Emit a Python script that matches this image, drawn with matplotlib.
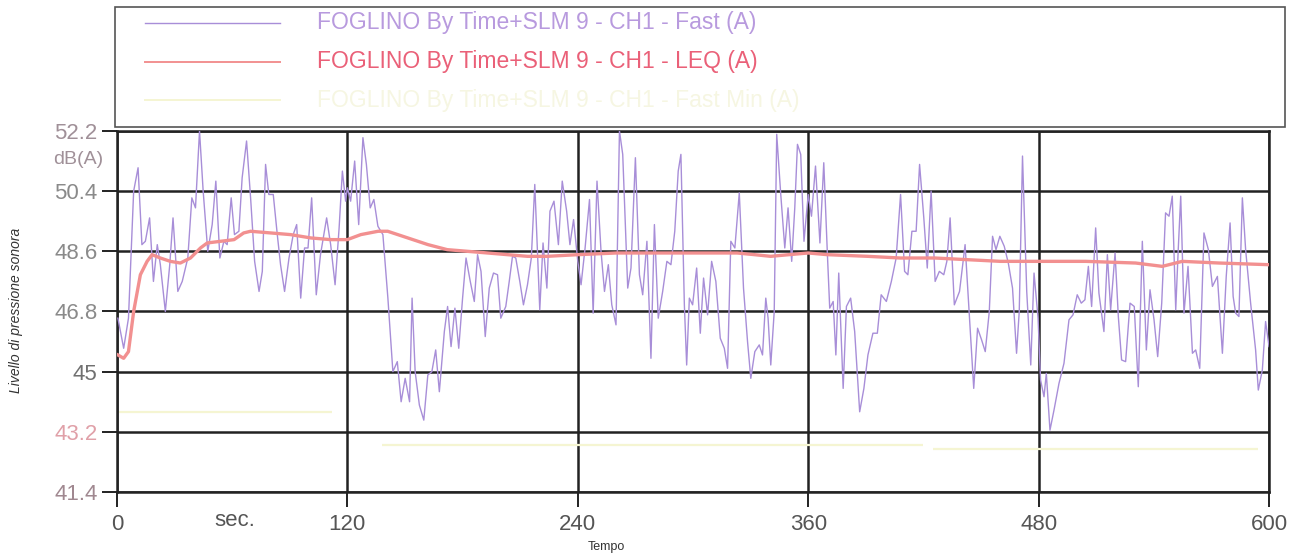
import numpy as np
import matplotlib
matplotlib.use('Agg')
import matplotlib.pyplot as plt
from matplotlib.patches import Rectangle
from matplotlib.lines import Line2D

plt.rcParams['font.family'] = ['Liberation Sans', 'DejaVu Sans']

# Fast (A)
fast_t = [0.5, 3.5, 6, 8.7, 11, 13, 14.8, 17, 19, 21, 22.6, 25.2, 27.5, 29.2, 31.7, 34, 36.9, 39, 40.9, 43,
          44.9, 47.3, 49.6, 51.5, 53.6, 55.7, 57.4, 59.5, 61.2, 63.5, 65.2, 67.5, 69.6, 71.7, 74, 75.7, 77.4,
          79.1, 81.4, 83.5, 85.2, 87.3, 89.6, 91.8, 93.6, 95.7, 97.7, 99.5, 101.4, 103.8, 106, 109.2, 111.3,
          113.6, 115.7, 117.4, 119.1, 120, 121.7, 123.8, 125.9, 128.1, 129.9, 131.9, 133.8, 135.9, 138.5,
          141.1, 143.7, 146, 148, 150.1, 152.4, 153.7, 155.3, 157.5, 159.8, 161.9, 164, 166, 167.9, 170.5,
          172.2, 174, 176, 178, 180, 181.8, 184, 186.1, 187.8, 189.6, 191.8, 193.9, 196.1, 198.2, 199.9,
          202.5, 204.3, 206, 207.7, 209.8, 211.7, 213.8, 215.8, 217.6, 219, 220.2, 221.9, 223.9, 225.5,
          227.6, 229.9, 231.9, 234.2, 235.9, 237.8, 240, 241.7, 243.8, 246.1, 248, 250, 252.1, 253.9, 255.9,
          257.7, 259.9, 261.7, 263.4, 266, 267.7, 270, 272.1, 273.8, 276, 278.1, 279.9, 281.9, 284.2, 286.4,
          288.5, 290.5, 292.3, 293.7, 295.5, 296.7, 298.1, 299.8, 301.9, 303.8, 305.5, 307.6, 309.7, 311.9,
          314.2, 316.3, 318, 319.7, 321.8, 324.1, 326.3, 328.4, 330.1, 332.2, 334.5, 336.2, 337.9, 339.1,
          340.5, 342.3, 343.6, 345.7, 347.8, 349.5, 351.4, 353, 354.4, 356.1, 357.8, 360, 361.7, 363.8,
          366.1, 368.1, 370, 371.2, 373, 374.4, 375.9, 378.2, 379.9, 382.1, 384.2, 386.8, 389, 391.1, 393.7,
          396, 398, 400.7, 403.3, 405.8, 408.1, 410.2, 411.9, 414, 416.2, 418, 420.2, 422, 424, 426.1, 428.3,
          430.6, 432.2, 433.9, 436.1, 438.8, 441.7, 443.9, 446.2, 448.2, 450.3, 452.2, 454.3, 456, 457.8,
          459.8, 462.1, 464.2, 466.4, 468.5, 469.9, 471.6, 473.8, 475.9, 477.6, 479.7, 481, 482.8, 484,
          485.9, 488, 490.6, 493.2, 495.8, 497.9, 500.1, 502.2, 504.1, 505.9, 507.6, 509.7, 511.4, 514,
          515.8, 517.5, 519.8, 521.5, 523.2, 525.3, 527.6, 529.8, 531.9, 534, 536.1, 538, 540.1, 542, 544.1,
          546.1, 547.9, 549.6, 551.4, 552.7, 554, 555.7, 557.8, 560.1, 561.8, 563.9, 566.1, 568.4, 570.5,
          573.1, 575.7, 577.7, 579.7, 581.3, 582.6, 584.3, 586.1, 587.8, 590.4, 593, 594.4, 596.5, 598.2, 600]
fast_db = [46.6, 45.7, 46.6, 50.4, 51.1, 48.8, 48.9, 49.6, 47.7, 48.8, 48.2, 46.8, 48.2, 49.6, 47.4, 47.7,
           48.4, 50.2, 49.9, 52.2, 50.4, 48.6, 49.4, 50.7, 48.4, 48.9, 48.8, 50.2, 49.1, 49.2, 50.8, 51.9,
           50.2, 48.3, 47.4, 48.0, 51.2, 50.3, 50.3, 49.1, 48.2, 47.4, 48.4, 49.1, 49.4, 47.2, 48.7, 48.7,
           50.2, 47.3, 48.5, 49.6, 48.8, 47.6, 49.3, 51.0, 50.1, 50.5, 50.1, 51.3, 49.4, 52.0, 51.2, 49.9,
           50.15, 49.35, 49.1, 47.2, 45.0, 45.3, 44.1, 44.8, 44.1, 47.2, 45.0, 44.0, 43.55, 44.9, 45.0, 45.65,
           44.4, 46.2, 46.95, 45.75, 46.9, 45.7, 47.2, 48.4, 47.7, 47.1, 48.5, 48.0, 46.05, 47.5, 47.95, 47.9,
           46.6, 46.95, 47.7, 48.45, 48.4, 47.7, 47.0, 47.6, 48.4, 50.6, 48.6, 46.85, 48.85, 47.5, 49.8, 50.1,
           48.8, 50.7, 49.8, 48.8, 49.55, 48.3, 47.6, 48.7, 50.15, 46.75, 50.7, 48.6, 47.4, 48.2, 47.0, 46.4,
           52.2, 51.5, 47.5, 48.1, 51.4, 47.9, 47.3, 48.9, 45.4, 49.4, 46.6, 47.4, 48.3, 48.2, 49.2, 51.0, 51.5,
           47.0, 45.2, 47.2, 47.0, 48.1, 46.15, 47.8, 46.7, 48.3, 47.7, 46.0, 45.7, 45.1, 48.9, 48.7, 50.35,
           47.5, 45.9, 44.8, 45.6, 45.8, 45.5, 47.2, 46.6, 45.2, 46.8, 52.1, 50.3, 48.7, 49.9, 48.3, 49.9, 51.8,
           51.5, 48.9, 50.3, 49.65, 51.15, 48.85, 51.25, 48.5, 46.9, 47.1, 45.5, 47.95, 44.5, 46.95, 47.2, 46.2,
           43.8, 44.5, 45.5, 46.15, 46.15, 47.3, 47.1, 47.7, 48.4, 50.3, 48.0, 47.9, 49.2, 49.2, 51.2, 49.6,
           48.1, 50.4, 47.7, 48.0, 47.9, 48.3, 49.6, 47.0, 47.4, 48.8, 46.7, 44.5, 46.3, 45.95, 45.6, 46.8,
           49.05, 48.65, 49.05, 48.75, 48.25, 47.5, 45.55, 46.8, 51.45, 47.4, 45.2, 47.95, 46.6, 44.75, 44.25,
           44.95, 43.25, 43.85, 44.65, 45.25, 46.55, 46.7, 47.3, 47.05, 47.15, 48.15, 46.95, 49.3, 47.35, 46.2,
           48.5, 46.85, 48.55, 46.65, 45.35, 45.3, 47.05, 46.95, 44.55, 48.9, 45.65, 47.45, 46.55, 45.45,
           47.05, 49.75, 49.65, 50.25, 46.85, 48.65, 50.25, 46.75, 48.15, 45.55, 45.65, 45.1, 49.15, 48.65,
           47.55, 47.85, 45.55, 47.85, 49.45, 47.25, 46.75, 46.65, 50.2, 48.65, 47.05, 45.65, 44.45, 45.05,
           46.5, 45.75]

# LEQ (A)
leq_t = [0.5, 3.5, 6, 8.7, 12.2, 15.7, 18.3, 22.6, 27.8, 33, 38.3, 43.5, 47, 54, 61, 66, 69.6, 80, 90.4,
         101, 111.3, 120, 127, 136, 141, 151.5, 162, 172, 182.6, 193, 203.4, 213.8, 224, 240, 260, 280,
         300, 323, 332, 340.5, 350, 360, 370, 391, 408, 426, 443, 460, 480, 504.5, 530.5, 544.4, 554.8,
         574, 600]
leq_db = [45.5, 45.4, 45.6, 46.8, 47.9, 48.3, 48.5, 48.4, 48.3, 48.25, 48.4, 48.7, 48.85, 48.9, 48.95,
          49.15, 49.2, 49.15, 49.1, 49.0, 48.95, 48.95, 49.1, 49.2, 49.2, 49.0, 48.8, 48.65, 48.6, 48.55,
          48.5, 48.45, 48.45, 48.5, 48.55, 48.55, 48.55, 48.55, 48.5, 48.45, 48.5, 48.55, 48.5, 48.45,
          48.4, 48.4, 48.35, 48.3, 48.3, 48.3, 48.25, 48.15, 48.3, 48.25, 48.2]

# Fast Min (A) - faint steps
min_start = [1, 138, 425]
min_end = [112, 420, 594]
min_db = [43.8, 42.8, 42.68]

x_ticks = [0, 120, 240, 360, 480, 600]
y_ticks = [41.4, 43.2, 45, 46.8, 48.6, 50.4, 52.2]
y_labels = ['41.4', '43.2', '45', '46.8', '48.6', '50.4', '52.2']
y_label_colors = ['#a08890', '#e0a0a8', '#707070', '#8a8a8a', '#8a8a8a', '#8a8a8a', '#a09098']

labels = ['FOGLINO By Time+SLM 9 - CH1 - Fast (A)',
          'FOGLINO By Time+SLM 9 - CH1 - LEQ (A)',
          'FOGLINO By Time+SLM 9 - CH1 - Fast Min (A)']
line_colors = ['#a88ed8', '#f29090', '#f5f5d2']
text_colors = ['#b89ade', '#ea6078', '#f6f6e2']

fig = plt.figure(figsize=(12.98, 5.55), dpi=100)
ax = fig.add_axes([0.0901, 0.1135, 0.8876, 0.6505])

ax.hlines(min_db, min_start, min_end, color=line_colors[2], lw=1.6, zorder=3)
ax.plot(fast_t, fast_db, color=line_colors[0], lw=1.0, zorder=4)
ax.plot(leq_t, leq_db, color=line_colors[1], lw=2.4, zorder=5)

ax.set_xlim(0, 600)
ax.set_ylim(41.4, 52.2)
ax.set_xticks(x_ticks)
ax.set_yticks(y_ticks)
ax.set_yticklabels(y_labels)
for lab, c in zip(ax.get_yticklabels(), y_label_colors):
    lab.set_color(c)
ax.tick_params(axis='both', length=11, width=1.4, color='#222222', labelsize=16, pad=3)
ax.tick_params(axis='x', labelcolor='#555555', pad=5)
ax.grid(True, color='#222222', lw=1.8, zorder=1)
for s in ['top', 'bottom', 'left', 'right']:
    ax.spines[s].set_color('#222222')
    ax.spines[s].set_linewidth(1.8)

fig.text(0.0794, 0.712, 'dB(A)', fontsize=14, color='#a09098', ha='right', va='center')
fig.text(0.181, 0.063, 'sec.', fontsize=16, color='#555555', ha='center', va='center')
fig.text(0.467, 0.0144, 'Tempo', fontsize=9, color='#333333', ha='center', va='center')
fig.text(0.0123, 0.441, 'Livello di pressione sonora', fontsize=10, style='italic',
         color='#333333', rotation=90, ha='center', va='center')

# legend box drawn by hand, like the scanned printout
fig.add_artist(Rectangle((0.0886, 0.7712), 0.9014, 0.2162, transform=fig.transFigure,
                         fill=False, ec='#555555', lw=1.2))
rows = [0.9586, 0.8883, 0.8198]
widths = [1.0, 1.4, 1.4]
for y, lab, lc, tc, w in zip(rows, labels, line_colors, text_colors, widths):
    fig.add_artist(Line2D([0.1117, 0.2157], [y, y], transform=fig.transFigure, color=lc, lw=w))
    fig.text(0.2442, y, lab, fontsize=16.5, color=tc, ha='left', va='center')

fig.savefig('out.png', dpi=100)
